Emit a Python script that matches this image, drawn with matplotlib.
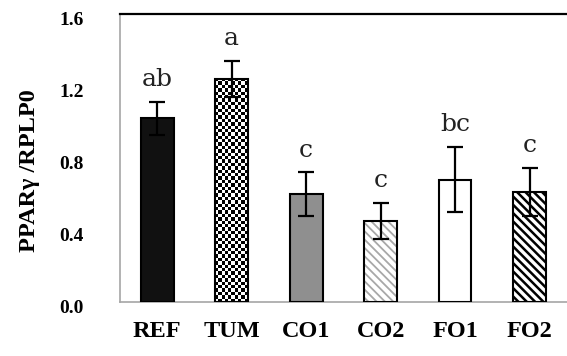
import numpy as np
import matplotlib.pyplot as plt
from matplotlib.transforms import ScaledTranslation

groups = ['REF', 'TUM', 'CO1', 'CO2', 'FO1', 'FO2']
means = [1.02, 1.24, 0.60, 0.45, 0.68, 0.61]
errors = [0.09, 0.10, 0.12, 0.10, 0.18, 0.135]
letters = ['ab', 'a', 'c', 'c', 'bc', 'c']

plt.rcParams['font.family'] = 'Liberation Serif'
plt.rcParams['font.weight'] = 'bold'

fig = plt.figure(figsize=(5.67, 3.56), dpi=100)
ax = fig.add_axes([0.2116, 0.1517, 0.788, 0.809])

x = np.arange(len(groups))
w = 0.44

# fill colour, hatch, hatch colour, hatch linewidth
looks = [
    ('#111111', None, None, 1.0),
    ('white', None, None, 1.0),
    ('#8f8f8f', None, None, 1.0),
    ('white', '\\\\\\\\', '#a8a8a8', 1.3),
    ('white', None, None, 1.0),
    ('white', '\\\\\\\\', 'black', 1.8),
]

for i, (fc, hatch, hc, hlw) in enumerate(looks):
    plt.rcParams['hatch.linewidth'] = hlw
    if hatch:
        ax.bar(x[i], means[i], w, color=fc, edgecolor=hc, hatch=hatch, lw=0, zorder=2)
    else:
        ax.bar(x[i], means[i], w, color=fc, lw=0, zorder=2)

# checkerboard for TUM, clipped to the bar
tum = ax.bar(x[1], means[1], w, fill=False, lw=0, zorder=2)[0]
px_w = w / len(groups) * 447
px_h = means[1] / 1.6 * 288
nc = int(round(px_w / 3.4))
nr = int(round(px_h / 3.4))
checker = (np.add.outer(np.arange(nr), np.arange(nc)) % 2).astype(float)
im = ax.imshow(checker, cmap='gray', vmin=0, vmax=1, interpolation='nearest',
               extent=[x[1] - w / 2, x[1] + w / 2, 0, means[1]], aspect='auto', zorder=2)
im.set_clip_path(tum)

# outlines
ax.bar(x, means, w, fill=False, edgecolor='black', lw=1.5, zorder=3)

ax.errorbar(x, means, yerr=errors, fmt='none', ecolor='black', elinewidth=1.6,
            capsize=6, capthick=1.6, zorder=4)

for xi, m, e, lab in zip(x, means, errors, letters):
    ax.text(xi, m + e + 0.06, lab, ha='center', va='bottom', fontweight='normal',
            family='DejaVu Serif', fontsize=18, color='#222222')

ax.set_xlim(-0.5, len(groups) - 0.5)
ax.set_ylim(0, 1.6)
ax.set_yticks([0.0, 0.4, 0.8, 1.2, 1.6])
ax.set_yticklabels(['0.0', '0.4', '0.8', '1.2', '1.6'])
ax.set_xticks(x)
ax.set_xticklabels(groups)

ax.tick_params(axis='both', length=0)
ax.tick_params(axis='y', pad=26, labelsize=14)
ax.tick_params(axis='x', pad=14, labelsize=17.5)
shift = ScaledTranslation(0, -5 / 100, fig.dpi_scale_trans)
for t in ax.get_yticklabels():
    t.set_transform(t.get_transform() + shift)

ax.spines['top'].set_color('black')
ax.spines['top'].set_linewidth(1.6)
ax.spines['left'].set_color('#a6a6a6')
ax.spines['bottom'].set_color('#a6a6a6')
ax.spines['left'].set_linewidth(1.2)
ax.spines['bottom'].set_linewidth(1.2)
ax.spines['right'].set_visible(False)

fig.text(30 / 567, 1 - 171 / 356, 'PPARγ /RPLP0', rotation=90, ha='center', va='center',
         fontweight='bold', fontsize=17.5)

fig.savefig('out.png', dpi=100)
